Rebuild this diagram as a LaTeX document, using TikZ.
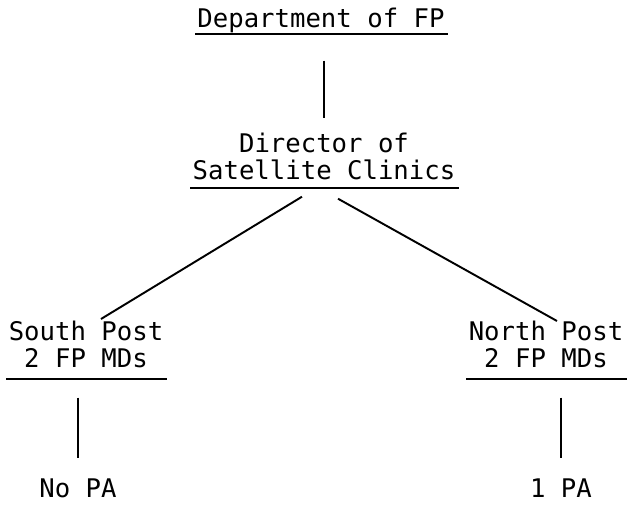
\documentclass[tikz,border=0pt]{standalone}
\usepackage{fontspec}
\newfontfamily\typewr{DejaVu Sans Mono}
\usetikzlibrary{calc}
\tikzset{unit/.style={anchor=north,align=center,inner sep=0pt,text height=0.36cm,
    font=\typewr\fontsize{14.6}{15.4}\selectfont},
  twoline/.style={unit,text height=0.9cm},
  link/.style={line width=1.1pt},
  uline/.style={line width=1.1pt}}

\begin{document}
\begin{tikzpicture}[x=0.02cm,y=-0.02cm]
\useasboundingbox (0,0) rectangle (637,505);
% chart entries
\node[unit,text depth=0.12cm] (dept) at (321,9) {Department of FP};
\node[twoline,text depth=0.16cm] (dir) at (324,134) {Director of\\Satellite Clinics};
\node[twoline,text depth=0.22cm] (south) at (86,322) {South Post\\2 FP MDs};
\node[twoline,text depth=0.22cm] (north) at (546,322) {North Post\\2 FP MDs};
\node[unit] (nopa) at (78,479) {No PA};
\node[unit] (onepa) at (561,479) {1 PA};
% underlines
\foreach \n in {dept,dir,south,north}
  \draw[uline] ([xshift=-0.04cm]\n.south west) -- ([xshift=0.06cm]\n.south east);
% connectors
\draw[link,shorten <=0.54cm,shorten >=0.32cm] (dept.south -| dir.north) -- (dir.north);
\draw[link] ([shift={(-22,9)}]dir.south) -- ([shift={(15,-3)}]south.north);
\draw[link] ([shift={(14,11)}]dir.south) -- ([shift={(11,-1)}]north.north);
\draw[link,shorten <=0.38cm,shorten >=0.42cm] (nopa.north |- south.south) -- (nopa.north);
\draw[link,shorten <=0.38cm,shorten >=0.42cm] (onepa.north |- north.south) -- (onepa.north);
\end{tikzpicture}
\end{document}
